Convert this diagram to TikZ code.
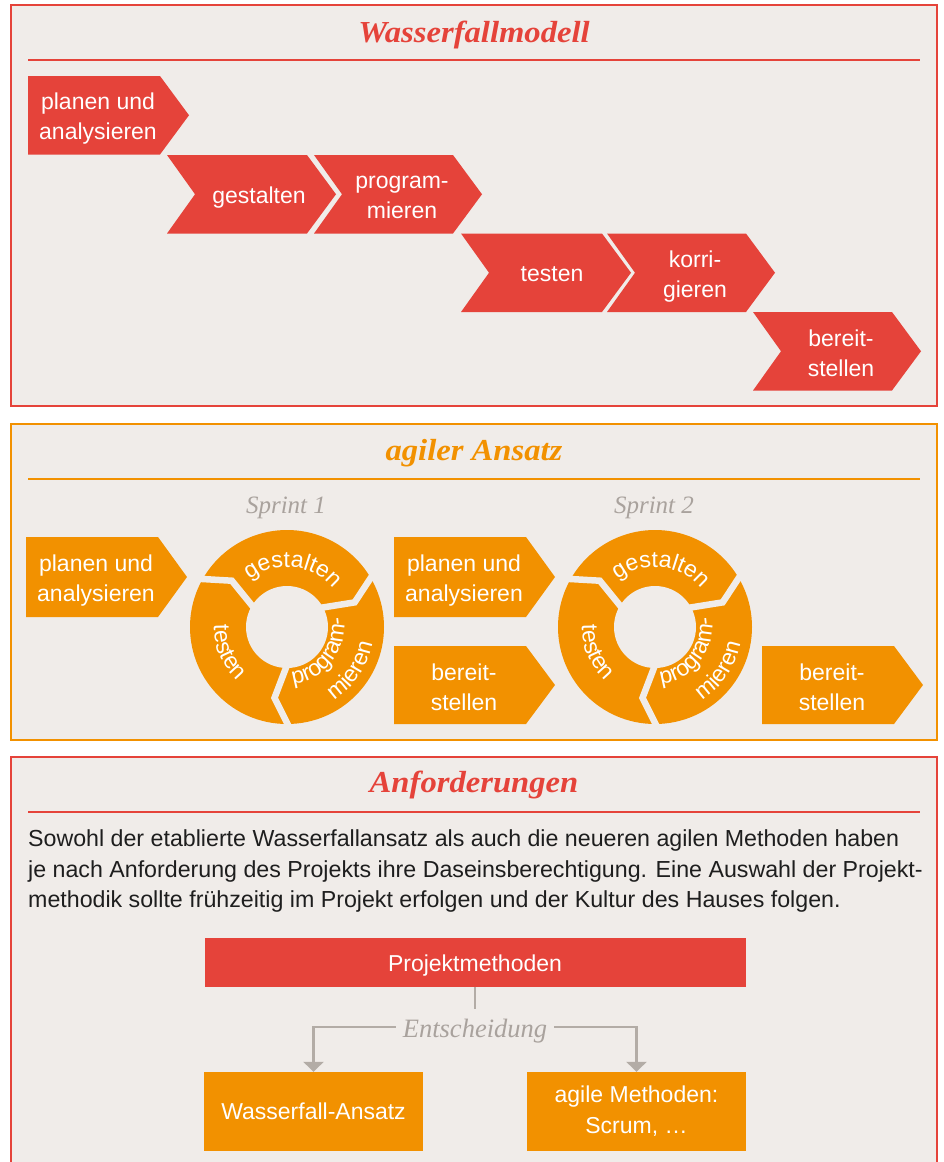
\documentclass[tikz,border=0pt]{standalone}
\usepackage{fontspec}
\setmainfont{Liberation Sans}
\newfontfamily\titlefont{Liberation Serif}
\newfontfamily\headfont[FakeStretch=1.07]{Liberation Serif}
\usetikzlibrary{arrows.meta,decorations.text,calc}
\definecolor{wred}{HTML}{E5433A}
\definecolor{agor}{HTML}{F29100}
\definecolor{panelbg}{HTML}{F0ECE9}
\definecolor{graytxt}{HTML}{A9A29D}
\definecolor{grayline}{HTML}{B3ACA6}
\definecolor{bodytxt}{HTML}{1E1E1E}
\newcommand\segfont{\color{white}\fontsize{23}{23}\selectfont}
% #1 colour, #2 left x, #3 top y, #4 top edge length, #5 height, #6 notch depth
\newcommand\chevshape[6]{%
  \fill[#1] (#2,-#3) -- ++(#4,0) -- ++(29,-#5/2) -- ++(-29,-#5/2) -- ++(-#4,0) -- ++(#6,#5/2) -- cycle;}
% ring with three curved arrow segments, #1 = centre coordinate
\newcommand\ringdiagram[1]{%
  \fill[agor] (#1) circle[radius=97];
  \fill[panelbg] (#1) circle[radius=41];
  \foreach \a [evaluate=\a as \b using \a-12] in {152,32,-88}{
    \draw[panelbg, line width=6.5pt, line join=miter]
      ($(#1)+(\a:103)$) -- ($(#1)+(\b:72)$) -- ($(#1)+(\a:35)$);
  }
  \path[decorate, decoration={text along path, text align=center, text={|\segfont|gestalten}}]
    ($(#1)+(134:60)$) arc[start angle=134, end angle=34, radius=60];
  \path[decorate, decoration={text along path, text align=center, text={|\segfont|testen}}]
    ($(#1)+(168:73)$) arc[start angle=168, end angle=238, radius=73];
  \path[decorate, decoration={text along path, text align=center, text={|\segfont|program-}}]
    ($(#1)+(-92:57)$) arc[start angle=-92, end angle=18, radius=57];
  \path[decorate, decoration={text along path, text align=center, text={|\segfont|mieren}}]
    ($(#1)+(-69:87)$) arc[start angle=-69, end angle=1, radius=87];
}
\tikzset{
  panel/.style={fill=panelbg, line width=1.8pt},
  rule/.style={line width=2pt},
  ttl/.style={font=\headfont\bfseries\itshape\fontsize{30.5}{30.5}\selectfont, anchor=base, inner sep=0pt},
  lbl/.style={text=white, font=\fontsize{23}{30}\selectfont, align=center, inner sep=0pt},
  sprint/.style={font=\titlefont\itshape\fontsize{25}{25}\selectfont, text=graytxt, anchor=base, inner sep=0pt},
  body/.style={font=\fontsize{23.2}{30}\selectfont, text=bodytxt, anchor=base west, inner sep=0pt},
  box/.style={text=white, font=\fontsize{23}{31}\selectfont, align=center, inner sep=0pt},
  conn/.style={grayline, line width=2.5pt},
}
\begin{document}
\begin{tikzpicture}[x=1pt, y=1pt]
\useasboundingbox (0,0) rectangle (944,-1162);
\fill[white] (0,0) rectangle (944,-1162);

% ---------------- Panel 1: Wasserfallmodell ----------------
\draw[panel, draw=wred] (11,-5) rectangle (937,-406);
\node[ttl, text=wred] (t1) at (474,-42) {Wasserfallmodell};
\draw[rule, wred] (28,-60) -- (920,-60);

\chevshape{wred}{28}{76}{132}{78.5}{0}
\chevshape{wred}{167}{155}{140}{78.5}{28}
\chevshape{wred}{314}{155}{139}{78.5}{28}
\chevshape{wred}{461}{233.5}{141}{78.5}{28}
\chevshape{wred}{607}{233.5}{139}{78.5}{28}
\chevshape{wred}{753}{312}{139}{78.5}{28}

\node[lbl] (w1) at (98,-119) {planen und\\analysieren};
\node[lbl] (w2) at (259,-198) {gestalten};
\node[lbl] (w3) at (402,-197.5) {program-\\mieren};
\node[lbl] (w4) at (552,-274.5) {testen};
\node[lbl] (w5) at (695,-276.5) {korri-\\gieren};
\node[lbl] (w6) at (841,-353) {bereit-\\stellen};

% ---------------- Panel 2: agiler Ansatz ----------------
\draw[panel, draw=agor] (11,-424) rectangle (937,-740);
\node[ttl, text=agor] (t2) at (474,-460) {agiler Ansatz};
\draw[rule, agor] (28,-479) -- (920,-479);

\chevshape{agor}{26}{537}{132}{80}{0}
\chevshape{agor}{394}{537}{132}{80}{0}
\chevshape{agor}{394}{646}{132}{78}{0}
\chevshape{agor}{762}{646}{132}{78}{0}

\node[lbl] (a1) at (96,-581) {planen und\\analysieren};
\node[lbl] (a2) at (464,-581) {planen und\\analysieren};
\node[lbl] (a3) at (464,-687) {bereit-\\stellen};
\node[lbl] (a4) at (832,-687) {bereit-\\stellen};

\coordinate (c1) at (287,-627);
\coordinate (c2) at (655,-627);
\node[sprint] (s1) at (286,-513) {Sprint 1};
\node[sprint] (s2) at (654,-513) {Sprint 2};
\ringdiagram{c1}
\ringdiagram{c2}

% ---------------- Panel 3: Anforderungen ----------------
\draw[panel, draw=wred] (11,-757) rectangle (937,-1180);
\node[ttl, text=wred] (t3) at (474,-792) {Anforderungen};
\draw[rule, wred] (28,-812) -- (920,-812);

\node[body] (p1) at (28,-846) {Sowohl der etablierte Wasserfallansatz als auch die neueren agilen Methoden haben};
\node[body] (p2) at (28,-877) {je nach Anforderung des Projekts ihre Daseinsberechtigung. Eine Auswahl der Projekt-};
\node[body] (p3) at (28,-907) {methodik sollte frühzeitig im Projekt erfolgen und der Kultur des Hauses folgen.};

\node[box, fill=wred, minimum width=541pt, minimum height=49pt, text height=22.5pt, text depth=4.8pt] (pm) at (475,-962.5) {Projektmethoden};
\node[font=\titlefont\itshape\fontsize{26.5}{26.5}\selectfont, text=graytxt,
      text height=20pt, text depth=0pt, inner xsep=7pt, inner ysep=8pt] (ent) at (475,-1027) {Entscheidung};
\node[box, fill=agor, minimum width=219pt, minimum height=79pt] (wf) at (313.5,-1111.5) {Wasserfall-Ansatz};
\node[box, fill=agor, minimum width=219pt, minimum height=79pt] (ag) at (636.5,-1111.5) {agile Methoden:\\Scrum, …};

\draw[conn] (pm.south) -- (ent.north);
\draw[conn, -{Triangle[width=20pt,length=10pt]}] (ent.west) -| (wf.north);
\draw[conn, -{Triangle[width=20pt,length=10pt]}] (ent.east) -| (ag.north);
\end{tikzpicture}
\end{document}
